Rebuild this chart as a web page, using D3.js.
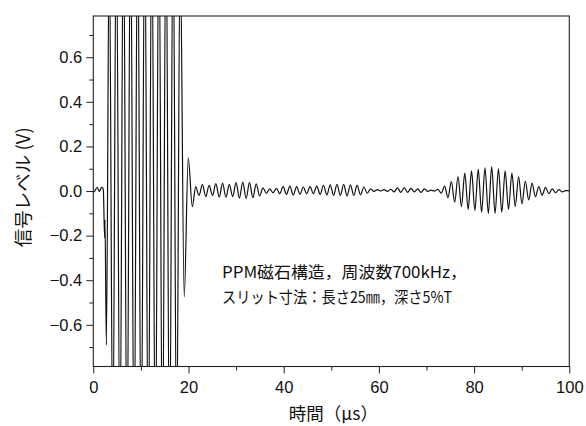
<!DOCTYPE html>
<html>
<head>
<meta charset="utf-8">
<script src="https://cdn.jsdelivr.net/npm/d3@7"></script>
<style>
  body { margin: 0; background: #fff; }
  svg { display: block; }
</style>
</head>
<body>
<svg id="chart" width="586" height="426"></svg>
<script>
// Received echo, turning points of the trace.
// Lead-in: quiet line, pickup dip and the saturated transmit burst (µs, V).
const leadTimes = [0, 0.15, 0.84, 1.26, 1.76, 2.1, 2.38, 2.45, 2.75,
  3.35, 4.1, 4.84, 5.6, 6.33, 7.08, 7.82, 8.57, 9.31, 10.06, 10.8, 11.55,
  12.29, 13.04, 13.78, 14.53, 15.27, 16.02, 16.76, 17.5, 18.25, 19.1, 19.95, 20.8];
const leadLevels = [0.002, -0.004, 0.017, -0.002, 0.016, 0.008, -0.21, -0.13, -0.69,
  1.15, -1.2, 1.25, -1.25, 1.3, -1.3, 1.3, -1.3, 1.3, -1.3, 1.3, -1.3,
  1.3, -1.3, 1.3, -1.3, 1.3, -1.3, 1.25, -1.2, 1.1, -0.475, 0.148, -0.07];

// Ringing and slit echo: one turning point every half cycle after ringStart.
const ringStart = 20.8;
const ringHalfCycle = 0.7067;
const ringLevels = [
  0.02, -0.02, 0.03, -0.025, 0.025, -0.02, 0.033, -0.027, 0.035, -0.028,
  0.03, -0.025, 0.038, -0.032, 0.04, -0.033, 0.038, -0.03, 0.032, -0.022,
  0.014, -0.01, 0.01, -0.008, 0.012, -0.012, 0.02, -0.015, 0.022, -0.018,
  0.02, -0.014, 0.018, -0.012, 0.02, -0.012, 0.022, -0.015, 0.026, -0.018,
  0.028, -0.02, 0.03, -0.02, 0.03, -0.022, 0.028, -0.02, 0.025, -0.017,
  0.018, -0.01, 0.01, -0.002, 0.006, 0.0, 0.006, -0.002, 0.008, -0.004,
  0.014, -0.006, 0.015, -0.006, 0.012, -0.004, 0.01, -0.006, 0.01, -0.002,
  0.004, 0.0, 0.008, -0.01, 0.022, -0.03, 0.042, -0.05, 0.065, -0.07,
  0.08, -0.082, 0.09, -0.088, 0.097, -0.095, 0.104, -0.1, 0.108, -0.1,
  0.1, -0.095, 0.09, -0.082, 0.08, -0.07, 0.065, -0.058, 0.045, -0.04,
  0.035, -0.026, 0.02, -0.018, 0.016, -0.012, 0.01, -0.008, 0.006, -0.004,
  0.002, 0.001
];
const endTime = 100;
const endLevel = 0.001;

const xMajor = [0, 20, 40, 60, 80, 100];
const xMinor = [10, 30, 50, 70, 90];
const yMajor = [-0.6, -0.4, -0.2, 0.0, 0.2, 0.4, 0.6];
const yMinor = [-0.7, -0.5, -0.3, -0.1, 0.1, 0.3, 0.5, 0.7];

const xTitle = "時間（µs）";
const yTitle = "信号レベル (V)";
const noteLines = ["PPM磁石構造，周波数700kHz，", "スリット寸法：長さ25㎜，深さ5%T"];

// assemble the trace
const trace = leadTimes.map((t, i) => [t, leadLevels[i]]);
ringLevels.forEach((v, i) => trace.push([ringStart + (i + 1) * ringHalfCycle, v]));
trace.push([endTime, endLevel]);

const W = 586, H = 426;
const plot = { left: 93.3, right: 569.3, top: 16, bottom: 366.5 };

const x = d3.scaleLinear().domain([0, 100]).range([plot.left, plot.right]);
const y = d3.scaleLinear().domain([-0.787, 0.785]).range([plot.bottom, plot.top]);

const svg = d3.select("#chart");
const axisColor = "#222";
const numFont = "'Liberation Sans', Arial, sans-serif";
const jpFont = "'Noto Sans CJK JP', 'Noto Sans CJK SC', sans-serif";

svg.append("defs").append("clipPath").attr("id", "plotClip")
  .append("rect")
  .attr("x", plot.left).attr("y", plot.top)
  .attr("width", plot.right - plot.left).attr("height", plot.bottom - plot.top);

// waveform
const line = d3.line()
  .x(d => x(d[0]))
  .y(d => y(d[1]))
  .curve(d3.curveMonotoneX);

svg.append("path")
  .datum(trace)
  .attr("clip-path", "url(#plotClip)")
  .attr("fill", "none")
  .attr("stroke", "#111")
  .attr("stroke-width", 1.2)
  .attr("stroke-linejoin", "round")
  .attr("d", line);

// axes
function styleAxis(g) {
  g.select(".domain").remove();
  g.selectAll(".tick line").attr("stroke", axisColor).attr("stroke-width", 1);
  g.selectAll(".tick text").attr("fill", "#111").attr("font-family", numFont).attr("font-size", 16.5);
}

svg.append("g")
  .attr("transform", `translate(0,${plot.bottom})`)
  .call(d3.axisBottom(x).tickValues(xMinor).tickSize(4).tickFormat(""))
  .call(styleAxis);
svg.append("g")
  .attr("transform", `translate(0,${plot.bottom})`)
  .call(d3.axisBottom(x).tickValues(xMajor).tickSize(7).tickPadding(8).tickFormat(d3.format("d")))
  .call(styleAxis);

svg.append("g")
  .attr("transform", `translate(${plot.left},0)`)
  .call(d3.axisLeft(y).tickValues(yMinor).tickSize(4).tickFormat(""))
  .call(styleAxis);
svg.append("g")
  .attr("transform", `translate(${plot.left},0)`)
  .call(d3.axisLeft(y).tickValues(yMajor).tickSize(7).tickPadding(4)
    .tickFormat(d => (d < 0 ? "\u2212" : "") + Math.abs(d).toFixed(1)))
  .call(styleAxis);

// frame
svg.append("rect")
  .attr("x", plot.left).attr("y", plot.top)
  .attr("width", plot.right - plot.left).attr("height", plot.bottom - plot.top)
  .attr("fill", "none").attr("stroke", axisColor).attr("stroke-width", 1.1);

// axis titles
svg.append("text")
  .attr("x", (plot.left + plot.right) / 2 + 2)
  .attr("y", 420)
  .attr("text-anchor", "middle")
  .attr("font-family", jpFont)
  .attr("font-size", 17.5)
  .attr("fill", "#111")
  .text(xTitle);

svg.append("text")
  .attr("transform", `translate(30,${(plot.top + plot.bottom) / 2 - 4}) rotate(-90)`)
  .attr("text-anchor", "middle")
  .attr("font-family", jpFont)
  .attr("font-size", 18.5)
  .attr("fill", "#111")
  .text(yTitle);

// annotation
const noteWidths = [245, 230];
noteLines.forEach((s, i) => {
  svg.append("text")
    .attr("x", 222)
    .attr("y", 278 + i * 25)
    .attr("font-family", jpFont)
    .attr("font-size", 16)
    .attr("fill", "#111")
    .attr("textLength", noteWidths[i])
    .attr("lengthAdjust", "spacingAndGlyphs")
    .text(s);
});
</script>
</body>
</html>
